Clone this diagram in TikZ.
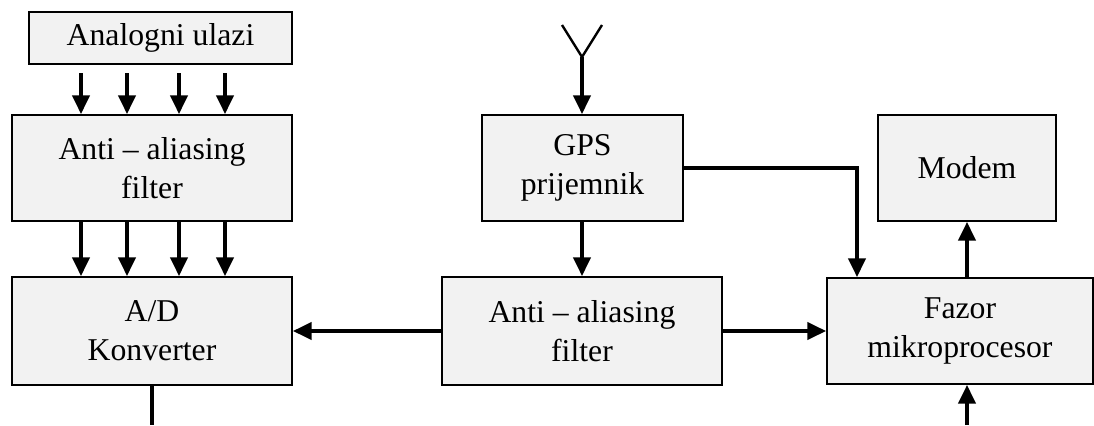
\documentclass[tikz,border=0pt]{standalone}
\usepackage{fontspec}
\setmainfont{Liberation Serif}
\usetikzlibrary{arrows.meta,calc}
\definecolor{boxfill}{RGB}{242,242,242}
\tikzset{
  blk/.style={draw=black, line width=1.5pt, fill=boxfill, align=center,
    font=\fontsize{23.8}{29.5}\selectfont, inner sep=0pt},
  arr/.style={line width=2.3pt, -{Triangle[length=14pt,width=13pt]}},
  ln/.style={line width=2.3pt},
}
\begin{document}
\begin{tikzpicture}[x=0.75pt,y=-0.75pt]
\useasboundingbox (0,0) rectangle (1094,425);

% blocks
\node[blk, minimum width=263*0.75pt, minimum height=52*0.75pt] (ana) at (160.5,38) {Analogni ulazi};
\node[blk, minimum width=280*0.75pt, minimum height=106*0.75pt] (aaf1) at (152,168) {Anti -- aliasing\\filter};
\node[blk, minimum width=280*0.75pt, minimum height=108*0.75pt] (adc) at (152,331) {A/D\\Konverter};
\node[blk, minimum width=201*0.75pt, minimum height=106*0.75pt] (gps) at (582.5,168) {GPS\\prijemnik};
\node[blk, minimum width=280*0.75pt, minimum height=108*0.75pt] (aaf2) at (582,331) {Anti -- aliasing\\filter};
\node[blk, minimum width=178*0.75pt, minimum height=106*0.75pt] (modem) at (967,168) {Modem};
\node[blk, minimum width=266*0.75pt, minimum height=106*0.75pt] (faz) at (960,331) {Fazor\\mikroprocesor};

% channel columns
\coordinate (k1) at (81,0);
\coordinate (k2) at (127,0);
\coordinate (k3) at (179,0);
\coordinate (k4) at (225,0);

% analog inputs into the filter and on to the converter
\foreach \k in {k1,k2,k3,k4}{
  \draw[arr, shorten <=6pt] (ana.south -| \k) -- (aaf1.north -| \k);
  \draw[arr] (aaf1.south -| \k) -- (adc.north -| \k);
}

% converter output
\coordinate (adcout) at (152,425);
\draw[ln] (adc.south) -- (adcout);

% antenna
\coordinate (antL) at (562,25);
\coordinate (antR) at (602,25);
\coordinate (antF) at (582,57);
\draw[line width=1.8pt] (antL) -- (antF) -- (antR);
\draw[arr] (antF) -- (antF |- gps.north);

% GPS receiver connections
\draw[arr] (gps.south -| antF) -- (aaf2.north -| antF);
\coordinate (turn) at (857,168);
\draw[arr] (gps.east) -- (turn) -- (turn |- faz.north);

% filter outputs
\draw[arr] (aaf2.west) -- (adc.east);
\draw[arr] (aaf2.east) -- (faz.west);

% processor to modem and external input
\draw[arr] (faz.north -| modem.south) -- (modem.south);
\coordinate (fazin) at (967,425);
\draw[arr] (fazin) -- (fazin |- faz.south);
\end{tikzpicture}
\end{document}
